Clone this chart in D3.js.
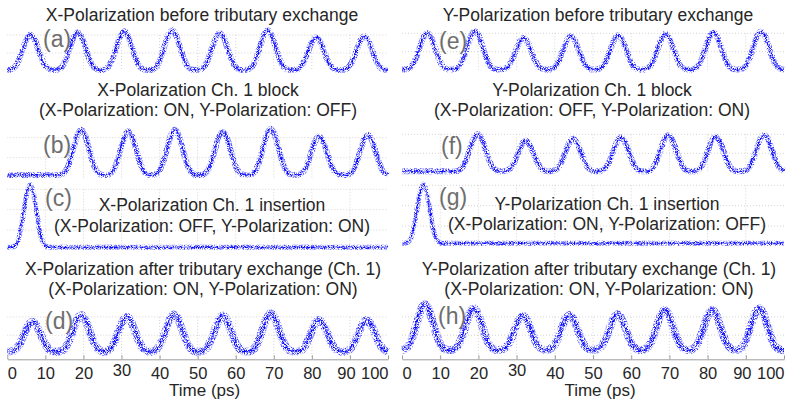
<!DOCTYPE html>
<html>
<head>
<meta charset="utf-8">
<script src="https://cdn.jsdelivr.net/npm/d3@7"></script>
<style>
    body { margin: 0; background: #fff; }
    svg { display: block; font-family: Arial, "Liberation Sans", sans-serif; }
</style>
</head>
<body>
<div id="chart"></div>
<script>
/* x axis ticks (ps) */
var timeTicks = [0, 10, 20, 30, 40, 50, 60, 70, 80, 90, 100];

/* shape of one pulse: offset (ps) -> fraction of peak */
var pulseOffset = [-6, -5, -4, -3, -2, -1, 0, 1, 2, 3, 4, 5, 6];
var pulseShape  = [0, 0.02, 0.1, 0.3, 0.6, 0.88, 1, 0.88, 0.6, 0.3, 0.1, 0.02, 0];

var panelTags = ["(a)", "(b)", "(c)", "(d)", "(e)", "(f)", "(g)", "(h)"];
var titleMain = [
    "X-Polarization before tributary exchange",
    "X-Polarization Ch. 1 block",
    "X-Polarization Ch. 1 insertion",
    "X-Polarization after tributary exchange (Ch. 1)",
    "Y-Polarization before tributary exchange",
    "Y-Polarization Ch. 1 block",
    "Y-Polarization Ch. 1 insertion",
    "Y-Polarization after tributary exchange (Ch. 1)"
];
var titleSub = [
    "",
    "(X-Polarization: ON, Y-Polarization: OFF)",
    "(X-Polarization: OFF, Y-Polarization: ON)",
    "(X-Polarization: ON, Y-Polarization: ON)",
    "",
    "(X-Polarization: OFF, Y-Polarization: ON)",
    "(X-Polarization: ON, Y-Polarization: OFF)",
    "(X-Polarization: ON, Y-Polarization: ON)"
];

/* pulse centres (ps) and peak levels (a.u.) per panel */
var timesA = [6.1, 18.5, 30.7, 43.3, 55.8, 68.4, 81.1, 93.8];
var peaksA = [2.02, 2.15, 2.21, 2.26, 2.11, 2.26, 1.87, 1.93];
var timesB = [19.4, 31.8, 44.0, 56.6, 69.2, 81.9, 94.7];
var peaksB = [2.40, 2.32, 2.40, 2.29, 2.45, 2.07, 2.15];
var timesC = [6.0];
var peaksC = [3.23];
var timesD = [6.6, 19.4, 31.4, 43.8, 56.6, 69.2, 81.9, 94.4];
var peaksD = [1.74, 2.10, 2.01, 2.14, 2.07, 2.20, 1.83, 1.83];
var timesE = [6.6, 19.1, 31.8, 44.2, 56.6, 69.0, 81.5, 94.0];
var peaksE = [2.02, 2.11, 1.74, 1.84, 1.89, 1.98, 2.05, 2.11];
var timesF = [19.8, 32.4, 44.8, 57.3, 69.7, 82.1, 94.8];
var peaksF = [2.02, 1.66, 1.77, 1.84, 1.95, 1.89, 1.98];
var timesG = [5.6];
var peaksG = [3.06];
var timesH = [6.0, 18.8, 31.6, 43.8, 56.4, 68.8, 81.2, 93.5];
var peaksH = [2.69, 2.47, 2.07, 2.11, 2.14, 2.38, 2.38, 2.47];

var baseLevel  = [0.06, 0.13, 0.16, 0.10, 0.03, 0.05, 0.16, 0.19];
var pulseWidth = [1, 1, 0.8, 1.05, 1, 1, 0.8, 1.05];
var gridLevels = [[1, 2], [1, 2], [1, 2, 3], [1, 2], [1, 2], [1, 2], [1, 2, 3], [1, 2]];

var pulseTimes = [timesA, timesB, timesC, timesD, timesE, timesF, timesG, timesH];
var pulsePeaks = [peaksA, peaksB, peaksC, peaksD, peaksE, peaksF, peaksG, peaksH];

/* ---------------- layout ---------------- */
var W = 792, H = 405;
var colRange = [[7.3, 388], [402, 784]];
var axisY = 359.3;
var panels = [
    {col: 0, y0: 71,    unit: 18,   spread: 6, tx: 202, t1: 21,    t2: 0,     tagX: 43,  tagY: 47},
    {col: 0, y0: 177.7, unit: 20,   spread: 6, tx: 198, t1: 96,    t2: 116,   tagX: 43,  tagY: 153},
    {col: 0, y0: 250.5, unit: 20.4, spread: 5, tx: 212, t1: 211,   t2: 231.5, tagX: 45,  tagY: 206},
    {col: 0, y0: 353.5, unit: 18.3, spread: 8, tx: 203, t1: 275,   t2: 295,   tagX: 45,  tagY: 329},
    {col: 1, y0: 70.1,  unit: 18.4, spread: 6, tx: 598, t1: 21,    t2: 0,     tagX: 439, tagY: 49},
    {col: 1, y0: 172.3, unit: 19,   spread: 6, tx: 592, t1: 96,    t2: 116,   tagX: 441, tagY: 154},
    {col: 1, y0: 246.5, unit: 20.4, spread: 5, tx: 607, t1: 210,   t2: 230,   tagX: 439, tagY: 205},
    {col: 1, y0: 353.5, unit: 18.3, spread: 8, tx: 599, t1: 274.5, t2: 294.5, tagX: 438, tagY: 324}
];

var svg = d3.select("#chart")
    .append("svg")
    .attr("width", W)
    .attr("height", H);

/* grainy look of the sampled scope traces */
var defs = svg.append("defs");
var grain = defs.append("filter")
    .attr("id", "grain")
    .attr("filterUnits", "userSpaceOnUse")
    .attr("x", 0).attr("y", 0).attr("width", W).attr("height", H);
grain.append("feTurbulence")
    .attr("type", "fractalNoise")
    .attr("baseFrequency", 1.3)
    .attr("numOctaves", 1)
    .attr("seed", 4)
    .attr("result", "noise");
grain.append("feColorMatrix")
    .attr("in", "noise")
    .attr("type", "matrix")
    .attr("values", "0 0 0 0 0  0 0 0 0 0  0 0 0 0 0  4 0 0 0 -1.7")
    .attr("result", "mask");
grain.append("feComposite")
    .attr("in", "SourceGraphic")
    .attr("in2", "mask")
    .attr("operator", "in");

function buildTrace(times, peaks, base, wscale) {
    var pts = [{t: 0, v: base}];
    times.forEach(function (tc, i) {
        pulseOffset.forEach(function (o, j) {
            var t = tc + o * wscale;
            if (t > 0 && t < 100) pts.push({t: t, v: base + (peaks[i] - base) * pulseShape[j]});
        });
    });
    pts.push({t: 100, v: base});
    pts.sort(function (a, b) { return a.t - b.t; });
    return pts;
}

panels.forEach(function (p, k) {
    var x = d3.scaleLinear().domain([0, 100]).range(colRange[p.col]);
    var y = d3.scaleLinear().domain([0, 1]).range([p.y0, p.y0 - p.unit]);
    var g = svg.append("g").attr("class", "panel");
    var isBottom = (k === 3 || k === 7);
    var gridTop = y(d3.max(gridLevels[k]));
    var gridBottom = isBottom ? axisY : p.y0;

    /* dotted grid */
    g.selectAll("line.vgrid")
        .data(timeTicks.slice(1, -1))
        .enter()
        .append("line")
        .attr("class", "vgrid")
        .attr("x1", function (d) { return x(d); })
        .attr("x2", function (d) { return x(d); })
        .attr("y1", gridTop)
        .attr("y2", gridBottom)
        .style("stroke", "#d4d4d4")
        .style("stroke-dasharray", "1 2");
    g.selectAll("line.hgrid")
        .data(gridLevels[k])
        .enter()
        .append("line")
        .attr("class", "hgrid")
        .attr("x1", x(0))
        .attr("x2", x(100))
        .attr("y1", function (d) { return y(d); })
        .attr("y2", function (d) { return y(d); })
        .style("stroke", "#d4d4d4")
        .style("stroke-dasharray", "1 2");

    /* bottom axis only under (d) and (h) */
    if (isBottom) {
        var axis = g.append("g")
            .attr("transform", "translate(0," + axisY + ")")
            .call(d3.axisBottom(x).tickValues(timeTicks).tickSizeInner(-4).tickSizeOuter(0).tickPadding(8));
        axis.select(".domain").style("stroke", "#9c9c9c");
        axis.selectAll(".tick line").style("stroke", "#9c9c9c");
        axis.selectAll(".tick text")
            .style("font-size", "16.5px")
            .style("font-family", "Arial, 'Liberation Sans', sans-serif")
            .style("fill", "#262626")
            .attr("text-anchor", function (d) { return d === 0 ? "start" : (d === 100 ? "end" : "middle"); })
            .attr("dx", function (d) { return d === 90 ? -4 : 0; })
            .attr("dy", function (d) { return d === 30 ? "0.52em" : "0.71em"; });
        g.append("text")
            .attr("x", x(50) + 7)
            .attr("y", 395.5)
            .attr("text-anchor", "middle")
            .style("font-size", "17px")
            .style("fill", "#262626")
            .text("Time (ps)");
    }

    /* trace */
    var pts = buildTrace(pulseTimes[k], pulsePeaks[k], baseLevel[k], pulseWidth[k]);
    var line = d3.line()
        .x(function (d) { return x(d.t); })
        .y(function (d) { return y(d.v); })
        .curve(d3.curveMonotoneX);

    g.append("path")
        .attr("d", line(pts))
        .attr("filter", "url(#grain)")
        .style("fill", "none")
        .style("stroke", "#4545ff")
        .style("stroke-width", p.spread)
        .style("stroke-linejoin", "round");
    g.append("path")
        .attr("d", line(pts))
        .attr("filter", "url(#grain)")
        .style("fill", "none")
        .style("stroke", "#0000ff")
        .style("stroke-width", p.spread * 0.5)
        .style("stroke-linejoin", "round");
    g.append("path")
        .attr("d", line(pts))
        .style("fill", "none")
        .style("stroke", "#0000ff")
        .style("stroke-opacity", 0.4)
        .style("stroke-width", 1);

    /* titles */
    g.append("text")
        .attr("x", p.tx)
        .attr("y", p.t1)
        .attr("text-anchor", "middle")
        .style("font-size", "17.5px")
        .style("fill", "#262626")
        .text(titleMain[k]);
    if (titleSub[k]) {
        g.append("text")
            .attr("x", p.tx)
            .attr("y", p.t2)
            .attr("text-anchor", "middle")
            .style("font-size", "17.5px")
            .style("fill", "#262626")
            .text(titleSub[k]);
    }
    g.append("text")
        .attr("x", p.tagX)
        .attr("y", p.tagY)
        .style("font-size", "23px")
        .style("fill", "#6e6e6e")
        .text(panelTags[k]);
});
</script>
</body>
</html>
